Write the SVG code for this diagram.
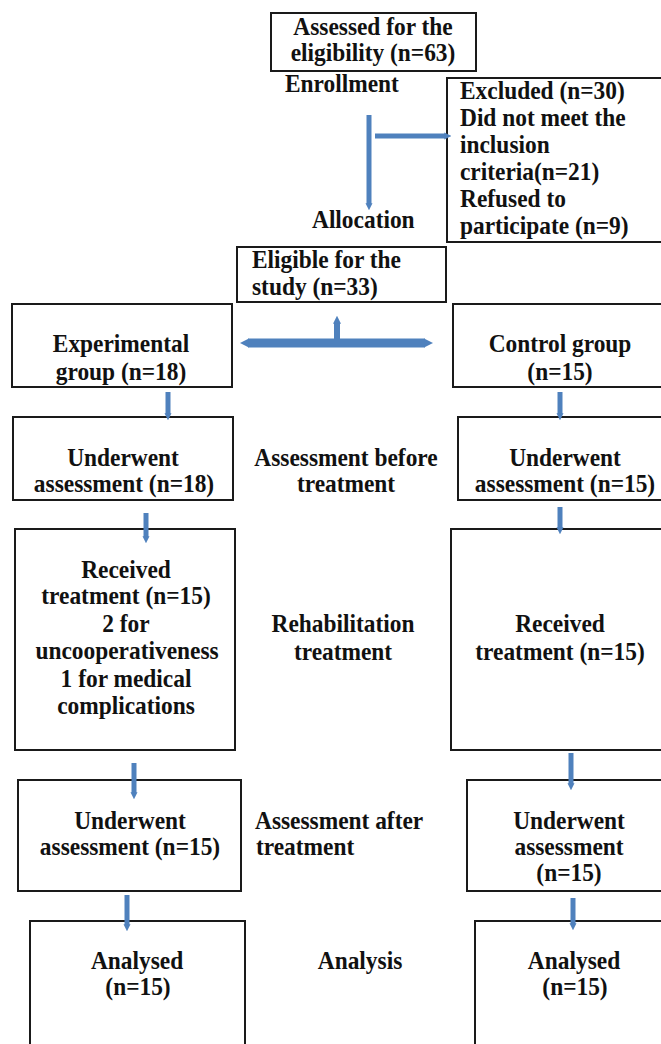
<svg xmlns="http://www.w3.org/2000/svg" width="661" height="1044" viewBox="0 0 661 1044">
<style>
  .box { fill: #ffffff; stroke: #1a1a1a; stroke-width: 2; }
  .t { font-family: "Liberation Serif", "Times New Roman", serif; font-weight: bold; font-size: 26px; fill: #111111;
       transform-box: fill-box; transform-origin: center; transform: scaleX(0.9); }
  .c { text-anchor: middle; }
  .l { transform-origin: left center; }
  .arr { stroke: #4F81BD; stroke-width: 5; fill: none; }
  .big { stroke: #4F81BD; stroke-width: 9; fill: none; }
  .up { stroke: #4F81BD; stroke-width: 6; fill: none; }
</style>
<defs>
  <marker id="ah" viewBox="0 0 10 10" refX="1" refY="5" markerUnits="userSpaceOnUse" markerWidth="7" markerHeight="10" orient="auto">
    <path d="M0,0 L10,5 L0,10 z" fill="#4F81BD"/>
  </marker>
  <marker id="ahBig" viewBox="0 0 10 10" refX="1" refY="5" markerUnits="userSpaceOnUse" markerWidth="9" markerHeight="19" orient="auto-start-reverse">
    <path d="M0,0 L10,5 L0,10 z" fill="#4F81BD"/>
  </marker>
  <marker id="ahUp" viewBox="0 0 10 10" refX="1" refY="5" markerUnits="userSpaceOnUse" markerWidth="8" markerHeight="13" orient="auto">
    <path d="M0,0 L10,5 L0,10 z" fill="#4F81BD"/>
  </marker>
</defs>
<rect x="0" y="0" width="661" height="1044" fill="#ffffff"/>

<g id="assessed">
  <rect class="box" x="271" y="13" width="205" height="58"/>
  <text class="t c" x="373" y="35">Assessed for the</text>
  <text class="t c" x="373" y="61">eligibility (n=63)</text>
</g>
<g id="label-enrollment">
  <text class="t l" x="285" y="92">Enrollment</text>
</g>
<g id="excluded">
  <rect class="box" x="447" y="78" width="230" height="164"/>
  <text class="t l" x="460" y="99">Excluded (n=30)</text>
  <text class="t l" x="460" y="126">Did not meet the</text>
  <text class="t l" x="460" y="153">inclusion</text>
  <text class="t l" x="460" y="180">criteria(n=21)</text>
  <text class="t l" x="460" y="207">Refused to</text>
  <text class="t l" x="460" y="234">participate (n=9)</text>
</g>
<g id="label-allocation">
  <text class="t l" x="312" y="228">Allocation</text>
</g>
<g id="eligible">
  <rect class="box" x="237" y="247" width="209" height="55"/>
  <text class="t l" x="252" y="268">Eligible for the</text>
  <text class="t l" x="252" y="295">study (n=33)</text>
</g>
<g id="experimental">
  <rect class="box" x="12" y="304" width="220" height="83"/>
  <text class="t c" x="121" y="352">Experimental</text>
  <text class="t c" x="121" y="380">group (n=18)</text>
</g>
<g id="control">
  <rect class="box" x="453" y="304" width="230" height="83"/>
  <text class="t c" x="560" y="352">Control group</text>
  <text class="t c" x="560" y="380">(n=15)</text>
</g>
<g id="underwent-exp-1">
  <rect class="box" x="13" y="417" width="220" height="83"/>
  <text class="t c" x="123" y="466">Underwent</text>
  <text class="t c" x="124" y="492">assessment (n=18)</text>
</g>
<g id="label-before">
  <text class="t c" x="346" y="466">Assessment before</text>
  <text class="t c" x="346" y="492">treatment</text>
</g>
<g id="underwent-ctl-1">
  <rect class="box" x="458" y="417" width="230" height="83"/>
  <text class="t c" x="565" y="466">Underwent</text>
  <text class="t c" x="565" y="492">assessment (n=15)</text>
</g>
<g id="received-exp">
  <rect class="box" x="15" y="529" width="220" height="221"/>
  <text class="t c" x="126" y="578">Received</text>
  <text class="t c" x="126" y="604">treatment (n=15)</text>
  <text class="t c" x="126" y="632">2 for</text>
  <text class="t c" x="127" y="659">uncooperativeness</text>
  <text class="t c" x="126" y="687">1 for medical</text>
  <text class="t c" x="126" y="714">complications</text>
</g>
<g id="label-rehab">
  <text class="t c" x="343" y="632">Rehabilitation</text>
  <text class="t c" x="343" y="660">treatment</text>
</g>
<g id="received-ctl">
  <rect class="box" x="451" y="529" width="230" height="221"/>
  <text class="t c" x="560" y="632">Received</text>
  <text class="t c" x="560" y="660">treatment (n=15)</text>
</g>
<g id="underwent-exp-2">
  <rect class="box" x="18" y="780" width="223" height="111"/>
  <text class="t c" x="130" y="829">Underwent</text>
  <text class="t c" x="130" y="855">assessment (n=15)</text>
</g>
<g id="label-after">
  <text class="t l" x="255" y="829">Assessment after</text>
  <text class="t l" x="256" y="855">treatment</text>
</g>
<g id="underwent-ctl-2">
  <rect class="box" x="467" y="780" width="220" height="111"/>
  <text class="t c" x="569" y="829">Underwent</text>
  <text class="t c" x="569" y="855">assessment</text>
  <text class="t c" x="569" y="881">(n=15)</text>
</g>
<g id="analysed-exp">
  <rect class="box" x="30" y="921" width="215" height="140"/>
  <text class="t c" x="137" y="969">Analysed</text>
  <text class="t c" x="138" y="995">(n=15)</text>
</g>
<g id="label-analysis">
  <text class="t c" x="360" y="969">Analysis</text>
</g>
<g id="analysed-ctl">
  <rect class="box" x="475" y="921" width="215" height="140"/>
  <text class="t c" x="574" y="969">Analysed</text>
  <text class="t c" x="575" y="995">(n=15)</text>
</g>

<g id="connectors">
  <line class="arr" x1="369" y1="115" x2="369" y2="204" marker-end="url(#ah)"/>
  <line class="arr" x1="375" y1="136" x2="445" y2="136" marker-end="url(#ah)"/>
  <line class="big" x1="248" y1="343" x2="425" y2="343" marker-start="url(#ahBig)" marker-end="url(#ahBig)"/>
  <line class="up" x1="337" y1="343" x2="337" y2="323" marker-end="url(#ahUp)"/>
  <line class="arr" x1="168" y1="392" x2="168" y2="414" marker-end="url(#ah)"/>
  <line class="arr" x1="560" y1="392" x2="560" y2="414" marker-end="url(#ah)"/>
  <line class="arr" x1="146" y1="513" x2="146" y2="537" marker-end="url(#ah)"/>
  <line class="arr" x1="560" y1="507" x2="560" y2="528" marker-end="url(#ah)"/>
  <line class="arr" x1="134" y1="763" x2="134" y2="793" marker-end="url(#ah)"/>
  <line class="arr" x1="571" y1="753" x2="571" y2="784" marker-end="url(#ah)"/>
  <line class="arr" x1="127" y1="895" x2="127" y2="925" marker-end="url(#ah)"/>
  <line class="arr" x1="573" y1="898" x2="573" y2="924" marker-end="url(#ah)"/>
</g>
</svg>
